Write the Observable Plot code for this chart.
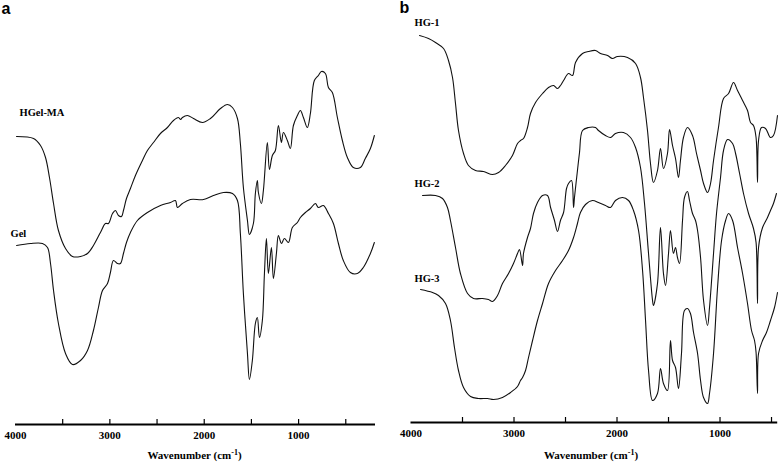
<!DOCTYPE html>
<html><head><meta charset="utf-8">
<script src="https://cdn.jsdelivr.net/npm/d3@7"></script>
<script src="https://cdn.jsdelivr.net/npm/@observablehq/plot@0.6"></script>
<style>
body{margin:0;background:#fff;}
#wrap{display:flex;width:779px;height:463px;overflow:hidden;}
.panel{position:relative;}
.cap{font-family:"Liberation Serif","Times New Roman",serif;font-weight:bold;font-size:11px;line-height:15px;height:15px;text-align:center;color:#000;white-space:nowrap;}
.cap sup{font-size:8px;vertical-align:0;position:relative;top:-4px;}
</style></head><body>
<div id="wrap">
  <div id="pa" class="panel" style="width:389px"></div>
  <div id="pb" class="panel" style="width:390px"></div>
</div>
<script>
// FTIR spectra: [wavenumber (cm-1), transmittance (a.u., offset per curve)]
const hgelMA = [[3989,288],[3809,286],[3735,279],[3682,267],[3640,247],[3597,221],[3545,194],[3470,176],[3396,168],[3311,168],[3237,171],[3174,179],[3100,192],[3047,201],[3015,201],[2972,211],[2941,214],[2909,209],[2877,208],[2856,214],[2824,226],[2782,236],[2729,249],[2655,264],[2602,274],[2538,282],[2464,291],[2390,297],[2326,304],[2273,307],[2250,305],[2231,307],[2178,309],[2114,306],[2019,302],[1934,306],[1828,316],[1754,320],[1701,317],[1648,306],[1617,281],[1585,237],[1542,204],[1521,190],[1479,201],[1458,231],[1437,244],[1426,232],[1394,221],[1373,234],[1331,282],[1309,255],[1278,269],[1246,274],[1214,299],[1182,282],[1161,292],[1119,284],[1087,276],[1055,299],[1013,309],[981,314],[949,307],[907,297],[875,311],[833,344],[790,349],[758,353],[716,351],[684,337],[642,332],[589,307],[536,284],[483,267],[420,257],[345,257],[293,266],[239,276],[197,289]];
const gel = [[3989,179],[3841,181],[3714,181],[3661,177],[3629,161],[3597,134],[3545,101],[3470,71],[3396,60],[3311,64],[3237,74],[3174,94],[3121,117],[3078,134],[3025,141],[2994,152],[2962,164],[2920,161],[2888,161],[2856,171],[2824,182],[2782,192],[2708,204],[2602,212],[2464,219],[2358,222],[2305,224],[2284,217],[2231,221],[2146,225],[2008,225],[1903,229],[1797,232],[1701,231],[1648,224],[1617,191],[1585,131],[1542,71],[1521,45],[1490,64],[1458,101],[1437,107],[1415,87],[1384,104],[1362,151],[1341,186],[1320,151],[1288,177],[1267,146],[1235,171],[1214,189],[1182,181],[1150,186],[1108,182],[1066,197],[1013,202],[981,207],[928,212],[875,216],[822,221],[790,217],[737,219],[684,211],[631,201],[578,181],[526,164],[451,152],[377,151],[314,157],[239,171],[197,182]];
const hg1 = [[3917,387],[3830,384],[3762,380],[3684,374],[3636,362],[3597,345],[3568,319],[3539,292],[3490,269],[3442,257],[3374,252],[3296,251],[3209,248],[3150,250],[3083,257],[3015,267],[2966,279],[2937,282],[2908,284],[2869,295],[2840,309],[2791,320],[2723,329],[2665,335],[2616,337],[2578,334],[2549,337],[2519,342],[2471,349],[2432,347],[2403,360],[2335,369],[2277,371],[2209,372],[2160,369],[2092,367],[2044,364],[1995,366],[1898,365],[1820,359],[1772,345],[1743,325],[1704,292],[1675,259],[1646,240],[1607,252],[1578,274],[1549,254],[1510,269],[1490,293],[1461,277],[1432,264],[1403,245],[1384,262],[1355,285],[1316,295],[1267,287],[1228,269],[1189,252],[1160,239],[1121,230],[1092,239],[1063,262],[1015,295],[966,324],[917,329],[869,340],[830,332],[781,322],[733,312],[704,300],[675,297],[650,285],[636,240],[626,282],[597,295],[558,294],[510,285],[481,287],[442,307]];
const hg2 = [[3888,227],[3762,227],[3694,224],[3646,215],[3617,202],[3568,175],[3520,149],[3451,129],[3393,124],[3306,124],[3248,123],[3209,121],[3160,127],[3112,139],[3053,149],[3005,159],[2966,169],[2947,173],[2917,157],[2908,169],[2869,185],[2840,194],[2811,209],[2772,220],[2723,227],[2675,227],[2645,215],[2607,202],[2578,191],[2549,202],[2519,210],[2490,234],[2471,239],[2442,242],[2422,215],[2413,225],[2384,252],[2364,270],[2335,292],[2277,295],[2209,295],[2180,292],[2112,287],[2063,285],[2015,289],[1937,290],[1869,285],[1820,275],[1772,255],[1733,219],[1694,169],[1655,122],[1646,117],[1607,139],[1578,195],[1549,149],[1529,137],[1500,169],[1481,192],[1452,169],[1432,175],[1413,165],[1393,159],[1364,202],[1345,225],[1316,231],[1296,222],[1267,209],[1238,202],[1218,192],[1189,165],[1160,122],[1121,97],[1102,115],[1063,169],[1034,209],[995,245],[966,272],[927,283],[878,279],[849,269],[810,249],[772,229],[723,209],[675,194],[650,180],[636,119],[626,175],[587,195],[539,205],[510,212],[481,219],[452,229]];
const hg3 = [[3908,133],[3791,130],[3733,127],[3665,119],[3617,102],[3578,75],[3539,52],[3490,35],[3422,26],[3345,24],[3257,24],[3199,23],[3112,25],[3034,30],[2966,36],[2937,42],[2917,45],[2888,52],[2859,65],[2820,82],[2772,102],[2723,119],[2665,139],[2597,152],[2529,162],[2471,172],[2422,185],[2384,199],[2355,210],[2306,218],[2238,222],[2180,220],[2112,217],[2063,215],[2015,222],[1947,225],[1888,222],[1840,212],[1791,192],[1752,152],[1723,102],[1694,52],[1655,22],[1607,29],[1578,54],[1549,39],[1510,32],[1481,82],[1461,62],[1432,55],[1403,34],[1374,69],[1345,112],[1316,114],[1287,109],[1257,90],[1218,69],[1189,42],[1160,25],[1121,19],[1102,29],[1063,69],[1024,135],[985,182],[946,202],[917,209],[878,202],[830,175],[781,149],[733,119],[694,92],[665,82],[650,70],[636,29],[626,69],[587,82],[549,90],[510,102],[471,115],[442,130]];

const minorTicks = [3500, 3000, 2500, 2000, 1500, 1000, 500];
const majorTicks = [4000, 3000, 2000, 1000];
const labelsA = [{name: "HGel-MA", x: 3958, y: 312}, {name: "Gel", x: 4053, y: 191}];
const labelsB = [{name: "HG-1", x: 3966, y: 400}, {name: "HG-2", x: 3966, y: 239}, {name: "HG-3", x: 3966, y: 144}];

const SVG_H = 448;
function panel({width, mL, mR, axisY, xDomain, series, labels, tag, tagDx, tagDy}) {
  return Plot.plot({
    width, height: SVG_H,
    marginLeft: mL, marginRight: mR, marginTop: 0, marginBottom: SVG_H - axisY,
    x: {domain: xDomain, axis: null},
    y: {domain: [0, axisY], axis: null},
    style: {fontFamily: '"Liberation Serif", "Times New Roman", serif', fontWeight: "bold", background: "white", overflow: "visible", color: "#000"},
    marks: [
      ...series.map(s => Plot.line(s, {x: d => d[0], y: d => d[1], stroke: "#111", strokeWidth: 1.1, curve: "catmull-rom"})),
      Plot.ruleY([0], {stroke: "#000", strokeWidth: 2.2}),
      Plot.ruleX(minorTicks, {y1: 0, y2: 5, stroke: "#000", strokeWidth: 1.2}),
      Plot.axisX({ticks: majorTicks, tickSize: 0, tickPadding: 7, fontSize: 11, label: null, tickFormat: d => String(d)}),
      Plot.text(labels, {x: "x", y: "y", text: "name", textAnchor: "start", fontSize: 10.5, fill: "#000"}),
      Plot.text([tag], {text: d => d, frameAnchor: "top-left", textAnchor: "start", lineAnchor: "top", dx: tagDx, dy: tagDy, fontSize: 16, fontFamily: '"Liberation Sans", Arial, sans-serif', fontWeight: "bold", fill: "#000"})
    ]
  });
}

function caption(padLeft) {
  const d = document.createElement("div");
  d.className = "cap";
  d.style.paddingLeft = padLeft + "px";
  d.innerHTML = "Wavenumber (cm<sup>-1</sup>)";
  return d;
}

const pa = document.getElementById("pa");
pa.appendChild(panel({width: 389, mL: 15, mR: 14, axisY: 424, xDomain: [4000, 185], series: [hgelMA, gel], labels: labelsA, tag: "a", tagDx: -14, tagDy: 2}));
pa.appendChild(caption(0));

const pb = document.getElementById("pb");
pb.appendChild(panel({width: 390, mL: 21.5, mR: 1.8, axisY: 422, xDomain: [4000, 440], series: [hg1, hg2, hg3], labels: labelsB, tag: "b", tagDx: -11.5, tagDy: 1}));
pb.appendChild(caption(14));
</script>
</body></html>
